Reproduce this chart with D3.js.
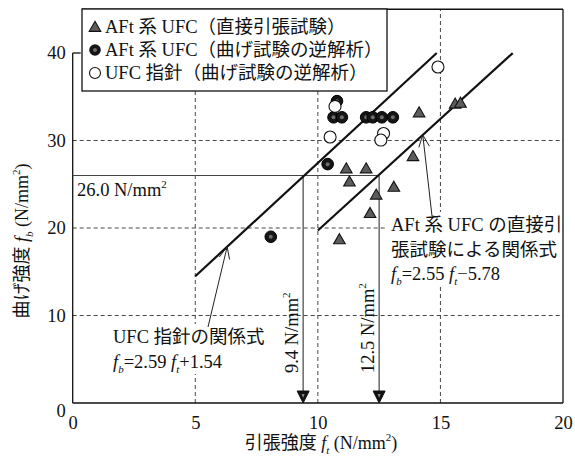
<!DOCTYPE html>
<html>
<head>
<meta charset="utf-8">
<script src="https://cdn.jsdelivr.net/npm/d3@7"></script>
<style>
  html, body { margin: 0; padding: 0; background: #fff; }
  svg text { font-family: "Liberation Serif", "Noto Sans CJK JP", serif; fill: #111; }
</style>
</head>
<body>
<svg id="chart" width="575" height="459"></svg>
<script>
// Axis ticks
const xTicks = [0, 5, 10, 15, 20];
const yTicks = [0, 10, 20, 30, 40];

// AFt-type UFC, direct tension test (ft, fb)
const directTension = [
  [10.88, 18.7], [11.16, 26.8], [11.29, 25.3], [11.97, 26.8], [12.13, 21.7],
  [12.38, 23.8], [13.10, 24.7], [13.88, 28.2], [14.13, 33.2], [15.60, 34.2],
  [15.82, 34.3]
];

// AFt-type UFC, back-analysis of bending tests
const aftBackAnalysis = [
  [8.08, 19.0], [10.40, 27.3], [10.64, 32.65], [10.98, 32.65], [10.78, 34.5],
  [11.97, 32.65], [12.24, 32.65], [12.61, 32.65], [13.06, 32.65]
];

// UFC guideline, back-analysis of bending tests
const guideBackAnalysis = [
  [10.70, 33.9], [10.50, 30.4], [12.68, 30.8], [12.57, 30.05], [14.90, 38.4]
];

// Regression lines fb = a*ft + b, drawn over [from, to]
const guideFit = { a: 2.59, b: 1.54, from: 5, to: 14.85 };
const aftFit = { a: 2.55, b: -5.78, from: 10, to: 17.95 };

// Design strength read-off
const designFb = 26.0;
const ftGuide = 9.4;
const ftAft = 12.5;

const legendLabels = [
  "AFt 系 UFC（直接引張試験）",
  "AFt 系 UFC（曲げ試験の逆解析）",
  "UFC 指針（曲げ試験の逆解析）"
];

const svg = d3.select("#chart");
const x = d3.scaleLinear().domain([0, 20]).range([72.7, 563]);
const y = d3.scaleLinear().domain([0, 45]).range([403, 9.25]);

// rich text helper: parts = [{t, it, sub, sup}]
function rich(sel, parts, size) {
  const small = Math.round(size * 0.62);
  let shift = 0;
  parts.forEach(p => {
    const ts = sel.append("tspan").text(p.t);
    let target = 0;
    if (p.sub) target = size * 0.28;
    if (p.sup) target = -size * 0.42;
    if (target !== shift) { ts.attr("dy", target - shift); shift = target; }
    if (p.sub || p.sup) ts.attr("font-size", small);
    if (p.it) ts.attr("font-style", "italic");
  });
  return sel;
}

// grid
const grid = svg.append("g").attr("stroke", "#333").attr("stroke-width", 0.9)
  .attr("stroke-dasharray", "4,3").attr("fill", "none");
[5, 10, 15].forEach(v => grid.append("line")
  .attr("x1", x(v)).attr("x2", x(v)).attr("y1", y(0)).attr("y2", y(45)));
[10, 20, 30].forEach(v => grid.append("line")
  .attr("x1", x(0)).attr("x2", x(20)).attr("y1", y(v)).attr("y2", y(v)));

// frame
const frame = svg.append("g").attr("stroke", "#111").attr("stroke-width", 1.3).attr("fill", "none");
frame.append("line").attr("x1", x(0)).attr("x2", x(0)).attr("y1", y(0)).attr("y2", y(40));
frame.append("line").attr("x1", x(0)).attr("x2", x(20)).attr("y1", y(0)).attr("y2", y(0));
frame.append("line").attr("x1", x(20)).attr("x2", x(20)).attr("y1", y(0)).attr("y2", y(45));
frame.append("line").attr("x1", 82).attr("x2", x(20)).attr("y1", y(45)).attr("y2", y(45));
frame.append("line").attr("x1", x(0)).attr("x2", x(0) + 8).attr("y1", y(40)).attr("y2", y(40));

// axes tick labels via d3 axes
const xAxis = svg.append("g").attr("transform", `translate(0,${y(0)})`)
  .call(d3.axisBottom(x).tickValues(xTicks).tickSize(0).tickPadding(13).tickFormat(d3.format("d")));
const yAxis = svg.append("g").attr("transform", `translate(${x(0)},0)`)
  .call(d3.axisLeft(y).tickValues(yTicks).tickSize(0).tickPadding(7).tickFormat(d3.format("d")));
[xAxis, yAxis].forEach(a => {
  a.select(".domain").remove();
  a.selectAll("text").attr("font-size", 18.5).attr("font-family", "Liberation Serif, serif").attr("fill", "#111");
});
yAxis.selectAll(".tick").filter(d => d === 0).select("text").attr("dy", "0.72em");

// design read-off lines
const ref = svg.append("g").attr("stroke", "#444").attr("stroke-width", 1.2).attr("fill", "none");
ref.append("line").attr("x1", x(0)).attr("x2", x(ftAft)).attr("y1", y(designFb)).attr("y2", y(designFb));
[ftGuide, ftAft].forEach(v => {
  ref.append("line").attr("x1", x(v)).attr("x2", x(v)).attr("y1", y(designFb)).attr("y2", y(0) - 10);
  svg.append("path")
    .attr("d", `M${x(v) - 6},${y(0) - 12}L${x(v) + 6},${y(0) - 12}L${x(v)},${y(0)}Z`)
    .attr("fill", "#111").attr("stroke", "#111").attr("stroke-width", 1);
  svg.append("path")
    .attr("d", `M${x(v) - 1.5},${y(0) - 9}L${x(v) + 1.5},${y(0) - 9}L${x(v)},${y(0) - 5}Z`)
    .attr("fill", "#888");
});

// regression lines
[guideFit, aftFit].forEach(f => {
  svg.append("line")
    .attr("x1", x(f.from)).attr("y1", y(f.a * f.from + f.b))
    .attr("x2", x(f.to)).attr("y2", y(f.a * f.to + f.b))
    .attr("stroke", "#111").attr("stroke-width", 2.2);
});

// annotation text blocks with white backing
svg.append("rect").attr("x", 385).attr("y", 212).attr("width", 177).attr("height", 72).attr("fill", "#fff");
svg.append("rect").attr("x", 108).attr("y", 324).attr("width", 168).attr("height", 50).attr("fill", "#fff");

// leader arrows
function leader(tipFt, fit, endX, endY, kinkX) {
  const tx = x(tipFt), ty = y(fit.a * tipFt + fit.b);
  const g = svg.append("g").attr("stroke", "#222").attr("stroke-width", 1).attr("fill", "none");
  let d = `M${tx},${ty}L${endX},${endY}`;
  if (kinkX !== undefined) d += `L${kinkX},${endY + 1}`;
  g.append("path").attr("d", d);
  const ang = Math.atan2(endY - ty, endX - tx);
  const len = 13, spread = 0.42;
  g.append("path").attr("d",
    `M${tx + len * Math.cos(ang - spread)},${ty + len * Math.sin(ang - spread)}L${tx},${ty}` +
    `L${tx + len * Math.cos(ang + spread)},${ty + len * Math.sin(ang + spread)}`);
}
leader(6.3, guideFit, 208, 327);
leader(14.28, aftFit, 432, 216, 438);

// data markers
const tri = d3.symbol().type(d3.symbolTriangle).size(58);
svg.append("g").selectAll("path").data(directTension).join("path")
  .attr("d", tri).attr("transform", d => `translate(${x(d[0])},${y(d[1]) + 1})`)
  .attr("fill", "#5c5c5c").attr("stroke", "#111").attr("stroke-width", 1.1);

const filled = svg.append("g").selectAll("g").data(aftBackAnalysis).join("g")
  .attr("transform", d => `translate(${x(d[0])},${y(d[1])})`);
filled.append("circle").attr("r", 5.8).attr("fill", "#151515").attr("stroke", "#000");
filled.append("circle").attr("r", 2).attr("fill", "#6d6d6d");

svg.append("g").selectAll("circle").data(guideBackAnalysis).join("circle")
  .attr("cx", d => x(d[0])).attr("cy", d => y(d[1])).attr("r", 6)
  .attr("fill", "#fff").attr("stroke", "#111").attr("stroke-width", 1.1);

// annotation texts
const fs = 18.5;
svg.append("text").attr("x", 77).attr("y", 196).attr("font-size", fs)
  .call(s => rich(s, [{ t: "26.0 N/mm" }, { t: "2", sup: true }], fs));

svg.append("text").attr("font-size", fs).attr("x", 113).attr("y", 343).text("UFC 指針の関係式");
const t1b = svg.append("text").attr("font-size", fs).attr("x", 113).attr("y", 368);
rich(t1b, [{ t: "f", it: true }, { t: "b", sub: true, it: true }, { t: "=2.59 " }, { t: "f", it: true },
  { t: "t", sub: true, it: true }, { t: "+1.54" }], fs);

svg.append("text").attr("font-size", fs).attr("x", 391).attr("y", 231).text("AFt 系 UFC の直接引");
svg.append("text").attr("font-size", fs).attr("x", 391).attr("y", 256).text("張試験による関係式");
const t2b = svg.append("text").attr("font-size", fs).attr("x", 391).attr("y", 280);
rich(t2b, [{ t: "f", it: true }, { t: "b", sub: true, it: true }, { t: "=2.55 " }, { t: "f", it: true },
  { t: "t", sub: true, it: true }, { t: "−5.78" }], fs);

// rotated value labels
[[ftGuide, "9.4 N/mm"], [ftAft, "12.5 N/mm"]].forEach(([v, lab]) => {
  const t = svg.append("text").attr("font-size", fs)
    .attr("transform", `translate(${x(v) - 5},373) rotate(-90)`);
  rich(t, [{ t: lab }, { t: "2", sup: true }], fs);
});

// axis titles
const xt = svg.append("text").attr("font-size", 18).attr("text-anchor", "middle")
  .attr("x", 321).attr("y", 449);
rich(xt, [{ t: "引張強度 " }, { t: "f", it: true }, { t: "t", sub: true, it: true }, { t: " (N/mm" },
  { t: "2", sup: true }, { t: ")" }], 18);
const yt = svg.append("text").attr("font-size", 18).attr("text-anchor", "middle")
  .attr("transform", "translate(28,241) rotate(-90)");
rich(yt, [{ t: "曲げ強度 " }, { t: "f", it: true }, { t: "b", sub: true, it: true }, { t: " (N/mm" },
  { t: "2", sup: true }, { t: ")" }], 18);

// legend
const lg = svg.append("g");
lg.append("rect").attr("x", 82).attr("y", 9).attr("width", 305).attr("height", 82)
  .attr("fill", "#fff").attr("stroke", "#111").attr("stroke-width", 1.3);
const rowY = [27, 50, 73];
lg.append("path").attr("d", tri).attr("transform", `translate(95,${rowY[0] + 1})`)
  .attr("fill", "#5c5c5c").attr("stroke", "#111").attr("stroke-width", 1.1);
lg.append("circle").attr("cx", 95).attr("cy", rowY[1]).attr("r", 5.8).attr("fill", "#151515");
lg.append("circle").attr("cx", 95).attr("cy", rowY[1]).attr("r", 2).attr("fill", "#6d6d6d");
lg.append("circle").attr("cx", 95).attr("cy", rowY[2]).attr("r", 5.5)
  .attr("fill", "#fff").attr("stroke", "#111").attr("stroke-width", 1.1);
legendLabels.forEach((l, i) => lg.append("text").attr("x", 105).attr("y", rowY[i] + 6)
  .attr("font-size", 18.5).text(l));
</script>
</body>
</html>
